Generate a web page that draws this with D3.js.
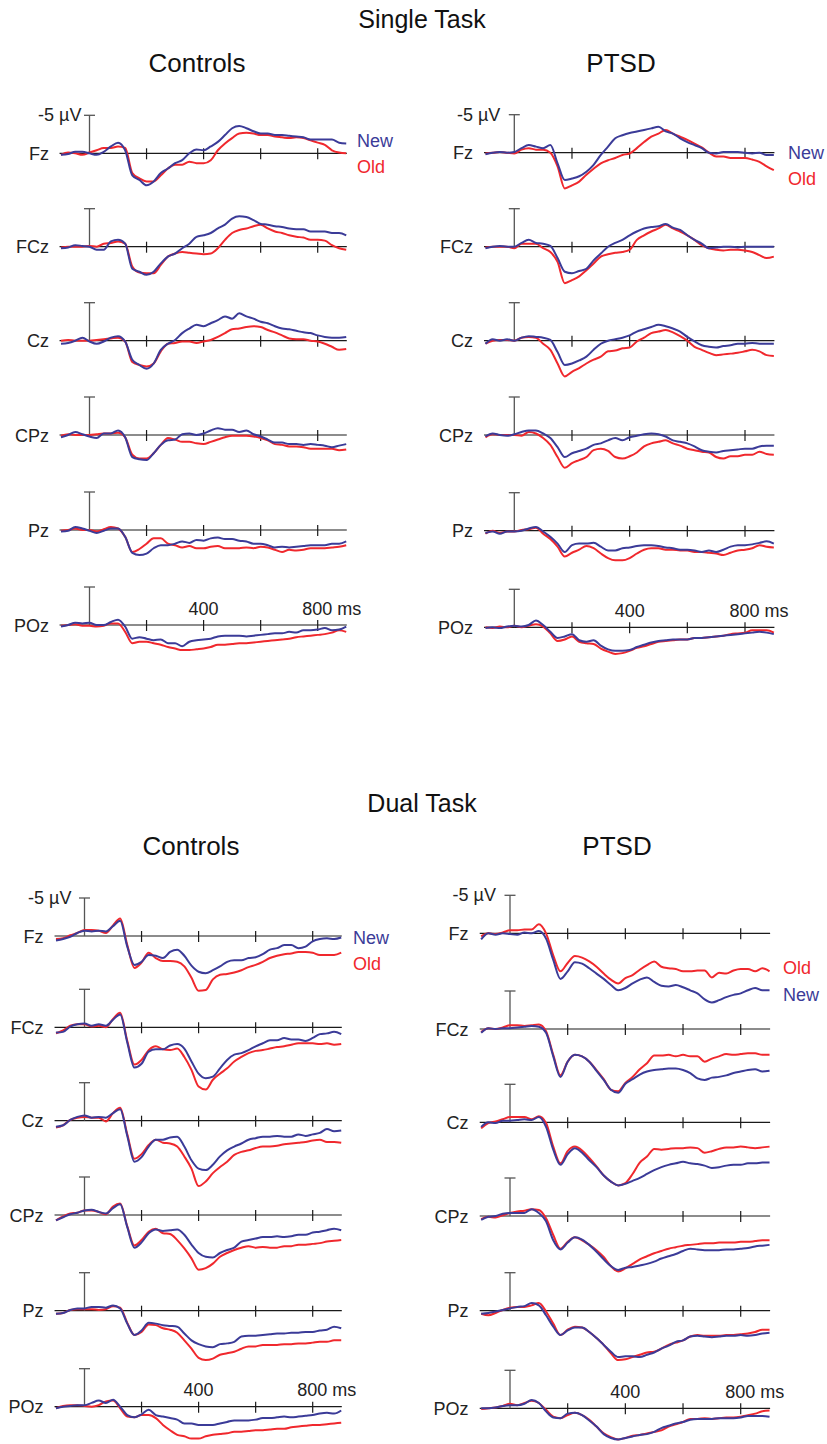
<!DOCTYPE html>
<html><head><meta charset="utf-8">
<script src="https://cdn.jsdelivr.net/npm/d3@7"></script>
<style>body{margin:0;background:#fff}svg{display:block}</style>
</head><body><svg id="c" width="827" height="1444"></svg>
<script>
// ---------- DATA ----------
const times = [-100,-75,-50,-25,0,25,50,75,100,125,150,175,200,225,250,275,300,325,350,375,400,425,450,475,500,525,550,575,600,625,650,675,700,725,750,775,800,825,850,875,900];
const electrodes = ["Fz","FCz","Cz","CPz","Pz","POz"];
const tasks = ["Single Task","Dual Task"];
const groups = ["Controls","PTSD"];
const conditions = ["New","Old"];
const tickTimes = [200,400,600,800];
const tickLabelTimes = [400,800];
const tickLabelTexts = ["400","800 ms"];
const calibrationUv = -5;
const calibrationText = "-5 µV";

// amplitudes in µV (negative plotted upward), one row per electrode
const singleControlsNew = [
 [0.2,0.1,-0.2,-0.2,0,0.2,-0.2,-0.9,-1.4,-0.4,2.9,3.5,4.2,3.7,2.6,2.0,1.3,0.9,0,-0.5,-0.4,-0.9,-1.5,-2.4,-3.3,-3.6,-3.3,-2.9,-2.6,-2.6,-2.4,-2.4,-2.3,-2.2,-2.1,-1.8,-1.8,-1.8,-1.8,-1.4,-1.3],
 [0.2,0.1,-0.2,-0.1,0,0.4,0.4,-0.7,-0.9,-0.4,2.9,3.3,3.7,3.3,2.2,1.3,0.9,0.2,-0.4,-1.3,-1.5,-1.8,-2.4,-2.9,-3.7,-4.0,-3.9,-3.5,-3.0,-2.9,-2.7,-2.6,-2.4,-2.3,-2.3,-2.0,-2.0,-2.0,-1.8,-1.8,-1.5],
 [0.4,0.3,0,-0.4,0.1,0.4,0.1,-0.4,-0.6,0.1,2.5,3.2,3.7,3.0,1.2,0.4,-0.1,-1.0,-1.6,-2.1,-1.9,-2.3,-2.7,-3.2,-2.9,-3.6,-3.2,-2.9,-2.5,-2.3,-1.9,-1.6,-1.5,-1.3,-1.1,-1.0,-0.7,-0.5,-0.4,-0.4,-0.5],
 [0.3,0,-0.4,-0.1,0.2,0.4,-0.2,-0.2,-0.6,0.3,2.9,3.2,3.3,2.4,1.3,0.7,0.6,-0.1,-0.2,0,-0.2,-0.6,-0.9,-0.7,-0.7,-0.4,-0.6,-0.1,0.2,0.6,1.0,1.0,1.2,1.2,1.3,1.2,1.3,1.4,1.6,1.4,1.2],
 [0.2,0.1,-0.4,-0.2,0.1,0.4,0.1,-0.2,-0.2,0.9,3.0,3.3,3.1,2.4,2.0,2.0,1.8,1.5,1.7,1.3,1.4,1.1,1.0,1.2,1.2,1.4,1.5,1.8,1.8,2.0,2.3,2.2,2.3,2.2,2.1,2.0,2.0,2.0,1.8,1.8,1.5],
 [0.2,0,-0.3,-0.2,-0.3,0,0,-0.4,-0.7,0.2,1.8,1.6,1.8,2.0,1.9,2.4,2.4,2.8,2.2,2.0,1.9,1.8,1.5,1.4,1.4,1.4,1.5,1.4,1.3,1.2,1.1,1.1,0.9,1.0,0.7,0.7,0.6,0.4,0.7,0.6,0.2]
];
const singleControlsOld = [
 [0.2,-0.1,0,0.2,-0.1,-0.4,-0.7,-0.7,-0.9,-0.7,2.6,3.3,3.7,3.7,2.9,2.0,1.5,1.5,1.1,1.3,1.3,0.9,-0.4,-1.3,-2.0,-2.6,-2.7,-2.6,-2.4,-2.4,-2.2,-2.1,-2.0,-2.1,-2.0,-1.7,-1.4,-1.1,-0.4,-0.1,0],
 [0.1,0,0,0,-0.1,0,-0.4,-0.5,-0.7,-0.4,2.6,3.4,3.5,3.5,2.4,1.3,0.9,0.7,0.8,0.9,1.0,0.9,0.2,-0.9,-1.8,-2.2,-2.4,-2.7,-2.9,-2.4,-2.0,-1.8,-1.5,-1.3,-1.2,-0.9,-0.9,-0.8,-0.2,0.2,0.4],
 [0,-0.1,0,0,0,-0.1,-0.2,-0.3,-0.4,0.1,2.8,3.2,3.4,3.0,1.4,0.4,0.3,0.1,0.1,0.3,0.1,-0.1,-0.5,-1.0,-1.5,-1.6,-1.8,-1.9,-1.8,-1.4,-1.1,-0.7,-0.3,-0.2,-0.2,0,0.1,0.4,0.8,1.2,1.1],
 [0.1,-0.1,0,0,0,-0.1,-0.2,-0.2,-0.3,0.3,2.6,3.1,3.1,2.4,1.3,0.4,0.6,0.9,0.9,1.1,1.2,0.9,0.6,0.3,0.1,0.1,0.1,0.2,0.4,0.7,1.2,1.3,1.5,1.5,1.6,1.8,1.8,1.8,1.8,2.0,1.9],
 [0.1,0,-0.2,0,0,0.2,-0.1,-0.4,-0.2,0.9,2.9,2.5,1.8,1.1,1.1,1.8,2.0,2.3,2.1,2.4,2.4,2.2,2.1,2.4,2.4,2.4,2.3,2.4,2.2,2.3,2.6,2.9,2.6,2.7,2.6,2.4,2.4,2.4,2.3,2.2,2.0],
 [0.1,0,-0.1,0.1,0.1,0.2,0.1,-0.2,-0.2,0.9,2.4,2.2,2.2,2.4,2.6,2.9,3.1,3.3,3.3,3.2,3.1,2.9,2.6,2.6,2.5,2.4,2.4,2.3,2.2,2.1,2.0,1.9,1.8,1.6,1.5,1.4,1.3,1.2,1.0,0.7,0.9]
];
const singlePtsdNew = [
 [0.2,0,-0.1,0,-0.1,-0.6,-1.0,-0.8,-0.6,-1.0,1.4,3.6,3.4,3.1,2.5,1.6,0.3,-0.8,-1.9,-2.3,-2.6,-2.8,-3.0,-3.2,-3.4,-2.8,-2.5,-1.9,-1.4,-1.0,-0.6,0,0.1,-0.1,-0.1,-0.1,0,0.1,0,0.3,0.3],
 [0.2,0,-0.1,0,0,-0.5,-0.9,-0.5,-0.4,-0.1,1.5,3.3,3.5,3.2,2.9,1.8,0.9,0,-0.5,-0.9,-1.5,-2.0,-2.4,-2.6,-2.7,-3.0,-2.5,-2.2,-1.5,-0.9,-0.4,0.2,0.1,0,0,0.1,0,0,0,0,0],
 [0.4,-0.2,0,-0.2,0,-0.4,-0.6,-0.5,-0.4,-0.1,1.5,3.2,3.0,2.6,2.1,1.2,0.4,0,-0.2,-0.4,-0.7,-1.2,-1.5,-1.8,-2.1,-1.9,-1.6,-1.2,-0.5,0.1,0.6,0.8,0.9,0.7,0.6,0.4,0.4,0.3,0.4,0.4,0.4],
 [0.2,-0.2,0,0.1,-0.1,-0.4,-0.6,-0.6,-0.2,0.4,1.6,2.9,2.4,2.1,1.8,1.3,1.1,0.7,0.4,0.7,0.3,0.1,-0.1,-0.2,-0.1,0.2,0.7,0.9,1.1,1.5,2.0,2.2,2.3,2.1,2.0,1.9,1.8,1.8,1.5,1.4,1.4],
 [0.3,0.1,0.4,0.1,0.1,0,-0.3,-0.5,0.1,0.8,1.7,2.8,1.9,1.7,1.7,1.6,2.1,2.6,2.6,2.3,2.2,2.0,1.9,1.9,2.0,2.2,2.3,2.5,2.5,2.6,2.8,2.6,2.8,2.5,2.1,1.9,1.9,1.8,1.6,1.4,1.7],
 [0.1,0,0.1,-0.1,-0.2,-0.1,-0.3,-0.9,-0.3,0.6,1.4,1.2,0.9,1.7,1.9,1.7,2.4,2.9,3.1,3.1,3.0,2.6,2.3,2.0,1.8,1.7,1.6,1.6,1.6,1.4,1.4,1.3,1.2,1.1,1.0,0.9,0.8,0.7,0.6,0.7,0.9]
];
const singlePtsdOld = [
 [0.1,0,-0.1,0,0.1,-0.4,-0.6,-0.4,-0.4,0,1.8,4.7,4.3,3.8,2.9,2.1,1.4,1.0,0.7,0.3,0.1,-0.6,-1.4,-2.1,-2.5,-3.0,-2.5,-2.1,-1.7,-1.2,-0.7,0,0.5,0.5,0.7,0.7,0.7,0.9,1.2,1.8,2.3],
 [0.1,0,0,0,0.2,-0.4,-0.4,-0.4,0.2,0.7,2.0,4.8,4.4,3.9,3.1,2.2,1.3,1.0,0.8,0.7,0.4,-0.9,-1.5,-2.0,-2.4,-2.9,-2.4,-2.0,-1.5,-0.9,-0.2,0.2,0.4,0.5,0.4,0.4,0.5,0.7,1.1,1.5,1.3],
 [0.4,0,-0.1,-0.1,0,-0.4,-0.5,-0.4,0.4,1.2,3.0,4.7,4.1,3.6,3.0,2.5,2.1,1.4,1.3,1.0,0.9,0.1,-0.4,-1.0,-1.2,-1.4,-1.1,-0.6,0,0.8,1.2,1.6,1.9,1.8,1.7,1.6,1.4,1.2,1.4,1.9,2.0],
 [0.3,-0.1,0,0,0,0.1,-0.4,-0.2,0.4,1.3,2.9,4.3,3.7,3.3,2.9,2.0,1.8,2.1,2.9,3.1,2.8,2.3,1.5,1.1,0.9,0.7,1.1,1.4,1.8,2.0,2.2,2.3,2.9,3.1,2.8,2.8,2.6,2.6,2.2,2.5,2.6],
 [0.4,0,0.3,0.1,0.1,-0.1,-0.2,-0.4,0.4,1.1,2.1,3.4,2.9,2.5,2.0,2.3,3.0,3.6,3.9,3.9,3.6,3.0,2.5,2.3,2.3,2.5,2.5,2.6,2.6,2.8,2.8,2.9,3.0,3.2,2.9,2.6,2.5,2.3,1.9,2.1,2.2],
 [0,0.1,-0.1,0,-0.2,0,-0.2,-0.4,-0.1,0.8,1.8,1.6,1.2,1.9,2.1,2.2,2.8,3.2,3.5,3.4,3.1,2.7,2.5,2.2,1.9,1.8,1.7,1.6,1.6,1.4,1.4,1.3,1.2,1.1,0.9,0.8,0.7,0.4,0.4,0.4,0.7]
];
const dualControlsNew = [
 [0.6,0.4,0.1,-0.4,-0.7,-0.6,-0.7,-0.6,-1.3,-2.0,1.4,3.8,3.4,2.5,2.6,2.9,2.1,1.8,2.6,3.9,4.7,4.9,4.5,4.0,3.4,3.2,3.2,2.9,2.8,2.4,1.8,1.6,1.2,1.2,1.6,1.4,0.7,0.4,0.3,0.4,0.2],
 [0.7,0.6,-0.1,-0.4,-0.5,-0.2,-0.4,-0.2,-1.0,-1.7,2.0,5.3,4.8,3.2,2.9,2.9,2.4,2.2,2.8,4.5,6.1,6.7,6.5,5.4,4.3,3.6,3.4,3.0,2.5,2.1,1.7,1.7,1.4,1.6,1.6,1.8,1.4,0.9,0.8,0.6,0.9],
 [0.8,0.6,-0.1,-0.5,-0.7,-0.4,-0.5,-0.4,-1.0,-1.5,2.0,5.4,4.8,3.4,2.5,2.5,2.2,2.1,3.4,5.2,6.3,6.5,5.8,4.7,3.9,3.4,3.0,2.5,2.3,2.1,2.1,2.0,2.1,2.1,1.8,2.0,1.8,1.6,1.1,1.4,1.3],
 [0.7,0.3,-0.1,-0.3,-0.6,-0.7,-0.4,-0.2,-0.9,-1.4,1.6,4.3,3.6,2.4,1.9,2.1,2.0,1.9,2.6,3.9,5.0,5.5,5.6,5.0,4.6,4.3,3.5,3.3,3.1,2.9,2.9,2.8,2.9,2.8,2.6,2.6,2.3,2.2,2.0,1.8,2.0],
 [0.4,0.3,-0.1,-0.3,-0.3,-0.5,-0.5,-0.4,-0.7,-0.3,1.7,3.2,2.6,1.6,1.7,1.9,2.0,2.1,3.0,3.9,4.4,4.7,4.8,4.4,4.3,4.1,3.4,3.3,3.3,3.2,3.1,3.0,3.0,2.9,2.9,2.8,2.8,2.6,2.5,2.1,2.3],
 [0.2,0,-0.1,-0.2,-0.2,-0.5,-0.8,-0.5,-0.9,0,1.1,1.4,1.0,0.4,1.1,1.3,1.5,1.7,2.2,2.2,2.4,2.4,2.4,2.2,2.0,1.8,1.8,1.8,1.7,1.5,1.5,1.4,1.3,1.4,1.3,1.2,1.1,0.9,0.8,0.9,0.5]
];
const dualControlsOld = [
 [0.4,0.3,-0.1,-0.4,-0.8,-0.8,-0.7,-0.4,-1.4,-2.3,1.2,4.2,3.5,2.2,2.9,3.3,3.3,3.4,4.0,5.5,7.2,7.1,5.7,5.1,5.0,4.8,4.5,4.1,3.8,3.4,2.9,2.6,2.4,2.3,2.1,2.1,2.2,2.5,2.5,2.5,2.2],
 [0.8,0.4,-0.2,-0.4,-0.4,-0.1,-0.2,0,-1.1,-1.9,1.8,4.9,4.3,3.0,2.5,2.9,3.0,2.8,3.9,5.6,7.8,8.2,6.9,6.1,5.4,4.5,3.9,3.4,3.1,3.0,2.8,2.6,2.5,2.3,2.1,2.1,2.1,2.2,2.1,2.3,2.2],
 [0.9,0.6,-0.1,-0.4,-0.5,-0.4,-0.4,0.1,-1.0,-1.7,1.8,5.0,4.4,3.2,2.5,2.9,3.0,3.4,4.7,6.3,8.6,8.0,6.9,6.1,5.4,4.5,4.1,3.9,3.6,3.4,3.4,3.3,3.1,3.0,2.9,2.8,2.6,2.5,2.8,2.8,2.9],
 [0.7,0.2,-0.2,-0.3,-0.6,-0.6,-0.4,-0.1,-1.1,-1.5,1.5,4.0,3.3,2.2,1.8,2.4,2.5,3.3,4.4,5.7,7.2,7.0,6.4,5.5,5.0,4.6,4.3,4.1,4.3,4.2,4.3,4.3,4.1,4.1,3.9,3.9,3.8,3.7,3.5,3.4,3.3],
 [0.4,0.3,-0.1,-0.2,-0.2,-0.2,-0.1,-0.2,-0.6,-0.4,1.6,3.2,2.8,1.8,1.9,2.3,2.5,2.9,3.9,5.0,6.2,6.5,6.3,5.8,5.6,5.4,5.0,4.7,4.7,4.5,4.5,4.5,4.4,4.4,4.3,4.3,4.2,4.1,4.1,3.9,3.9],
 [0.2,-0.1,-0.2,-0.2,-0.1,0,-0.2,-0.7,-0.8,0.2,1.3,1.4,1.1,1.1,1.5,2.4,3.1,3.7,3.9,4.2,4.2,3.9,3.7,3.6,3.5,3.3,3.3,3.2,3.1,3.1,3.0,2.9,2.9,2.7,2.6,2.5,2.4,2.4,2.3,2.2,2.1]
];
const dualPtsdNew = [
 [0.8,0,0.2,0,0.1,0.2,-0.1,0,-0.3,0.7,3.5,6.0,5.0,3.8,4.0,4.6,5.3,6.0,6.8,7.5,7.2,6.6,6.1,5.8,6.4,6.9,7.0,6.8,7.1,7.5,7.9,8.7,9.1,8.8,8.4,8.1,7.9,7.5,7.2,7.5,7.5],
 [0.5,-0.1,0,-0.1,-0.1,-0.2,-0.3,-0.4,-0.3,0.5,3.6,6.3,4.3,3.4,3.6,4.3,5.5,6.7,8.0,8.4,7.2,6.6,6.0,5.6,5.4,5.3,5.2,5.2,5.4,5.8,6.5,6.7,6.4,6.3,6.1,5.8,5.6,5.4,5.3,5.6,5.5],
 [0.6,0,0.1,-0.2,-0.2,-0.3,-0.4,-0.3,-0.7,0.6,3.6,5.6,4.2,3.4,4.0,5.0,5.9,7.0,7.8,8.3,8.1,7.7,7.3,6.8,6.3,5.9,5.6,5.4,5.2,5.4,5.5,5.7,6.0,5.9,5.7,5.6,5.6,5.4,5.4,5.3,5.3],
 [0.5,0.1,0,-0.3,-0.4,-0.4,-0.4,-0.9,-0.4,0.7,3.2,4.4,3.5,2.8,3.1,3.8,4.7,5.7,6.6,7.1,6.8,6.7,6.5,6.3,6.0,5.6,5.3,5.0,4.6,4.3,4.4,4.5,4.5,4.5,4.4,4.4,4.3,4.2,4.0,3.9,3.8],
 [0.4,0.3,0.1,-0.1,-0.3,-0.5,-0.6,-1.0,-0.7,0.6,2.1,3.2,2.6,2.2,2.2,2.8,3.6,4.5,5.4,6.1,6.0,6.0,6.1,5.8,5.5,5.0,4.6,4.1,3.9,3.4,3.3,3.4,3.5,3.4,3.3,3.3,3.2,3.3,3.2,3.0,2.9],
 [0,0,-0.1,-0.3,-0.4,-0.4,-0.6,-1.1,-0.7,0.4,1.2,1.3,0.7,0.6,0.9,1.6,2.4,3.4,3.9,4.1,3.9,3.7,3.5,3.4,3.1,2.6,2.3,2.0,1.8,1.5,1.4,1.4,1.4,1.3,1.3,1.3,1.2,1.0,1.0,1.0,1.1]
];
const dualPtsdOld = [
 [0.4,0,0.1,-0.1,-0.4,-0.4,-0.5,-0.5,-1.2,0,2.9,5.0,3.9,3.0,3.2,3.7,4.4,5.3,6.1,6.6,5.9,5.5,4.8,4.2,3.7,4.4,4.6,4.7,5.0,5.0,4.9,4.9,5.8,5.2,5.3,4.9,4.7,4.7,5.0,4.6,5.0],
 [0.4,-0.1,0,-0.2,-0.5,-0.5,-0.4,-0.5,-0.6,0.3,3.4,6.1,4.3,3.4,3.6,4.3,5.4,6.6,8.0,8.2,7.1,6.3,5.3,4.5,3.5,3.5,3.4,3.6,3.4,3.6,3.6,4.3,3.9,3.6,3.3,3.4,3.3,3.2,3.2,3.4,3.4],
 [0.8,0.1,-0.1,-0.4,-0.7,-0.7,-0.7,-0.4,-0.8,0.1,3.2,5.4,3.8,3.2,3.7,4.7,5.8,7.0,7.8,8.3,8.0,6.8,5.3,4.5,3.5,3.6,3.5,3.4,3.4,3.3,3.4,4.0,3.8,3.5,3.3,3.3,3.2,3.3,3.4,3.3,3.2],
 [0.4,0.1,0.2,-0.1,-0.4,-0.6,-0.7,-0.9,-0.8,0.3,2.5,4.3,3.4,2.8,3.2,3.8,4.5,5.4,6.6,7.3,6.9,6.3,5.7,5.3,4.9,4.6,4.3,4.1,3.9,3.8,3.7,3.6,3.6,3.5,3.5,3.5,3.4,3.4,3.3,3.2,3.2],
 [0.4,0.6,0.3,-0.1,-0.4,-0.5,-0.5,-0.7,-1.0,0.1,1.7,3.2,2.5,2.1,2.2,2.8,3.6,4.5,5.6,6.5,6.4,6.1,5.8,5.5,5.4,5.0,4.5,4.2,3.9,3.4,3.2,3.3,3.3,3.3,3.2,3.2,3.1,3.0,2.8,2.5,2.5],
 [0.1,0,-0.1,-0.3,-0.6,-0.4,-0.7,-1.0,-0.7,0.2,1.1,1.3,0.9,0.6,0.9,1.5,2.4,3.3,3.8,4.1,3.9,3.6,3.5,3.3,3.1,2.9,2.4,2.1,1.8,1.4,1.4,1.3,1.4,1.3,1.2,1.2,1.1,0.9,0.7,0.4,0.3]
];

// ---------- LAYOUT / STYLE ----------
const FONT = '"Liberation Sans", Arial, Helvetica, sans-serif';
const COLORS = {New: "#3b3b98", Old: "#f0282d"};
const AXIS = "#1a1a1a";
const svg = d3.select("#c");

// µV -> vertical pixel offset (negative up): 5 µV = 38 px
const yOff = d3.scaleLinear().domain([0, 5]).range([0, 38]);

const panels = [
  {task:0, group:0, data:{New:singleControlsNew, Old:singleControlsOld}, onset:89.5, x800:317.7,
   bases:[153.3,246.7,340.7,435,530,625], labelRight:49, calLabelDx:-8, titleX:197, titleY:72,
   legend:[{c:"New",x:357,y:146.5},{c:"Old",x:357,y:173}]},
  {task:0, group:1, data:{New:singlePtsdNew, Old:singlePtsdOld}, onset:514.3, x800:745,
   bases:[152.7,246.7,340.7,435,530.7,627.3], labelRight:473, calLabelDx:-14, titleX:621, titleY:72,
   legend:[{c:"New",x:788,y:158.5},{c:"Old",x:788,y:184.5}]},
  {task:1, group:0, data:{New:dualControlsNew, Old:dualControlsOld}, onset:84.5, x800:312.7,
   bases:[936,1027.3,1120.7,1215,1310.7,1406.7], labelRight:43.5, calLabelDx:-13, titleX:191, titleY:855,
   legend:[{c:"New",x:353,y:943.5},{c:"Old",x:353,y:970}]},
  {task:1, group:1, data:{New:dualPtsdNew, Old:dualPtsdOld}, onset:510, x800:740.7,
   bases:[933.3,1029,1122.3,1216,1310.7,1408.3], labelRight:468.5, calLabelDx:-14, titleX:617, titleY:855,
   legend:[{c:"Old",x:783,y:974},{c:"New",x:783,y:1000.5}]}
];
const taskTitles = [{x:422, y:28}, {x:422, y:812}];

tasks.forEach((t, i) => {
  svg.append("text").attr("x", taskTitles[i].x).attr("y", taskTitles[i].y)
    .attr("text-anchor","middle").attr("font-family",FONT).attr("font-size",25)
    .attr("fill","#111").text(t);
});

panels.forEach(p => {
  const x = d3.scaleLinear().domain([0, 800]).range([p.onset, p.x800]);
  const g = svg.append("g");
  g.append("text").attr("x", p.titleX).attr("y", p.titleY).attr("text-anchor","middle")
    .attr("font-family",FONT).attr("font-size",26).attr("fill","#111").text(groups[p.group]);

  electrodes.forEach((el, ei) => {
    const base = p.bases[ei];
    const eg = g.append("g").attr("transform", `translate(0,${base})`);
    eg.append("line").attr("x1", x(-105)).attr("x2", x(902)).attr("y1",0).attr("y2",0)
      .attr("stroke",AXIS).attr("stroke-width",1.2);
    eg.selectAll("line.tk").data(tickTimes).join("line").attr("class","tk")
      .attr("x1", d => x(d)).attr("x2", d => x(d)).attr("y1",-5).attr("y2",6)
      .attr("stroke",AXIS).attr("stroke-width",1.2);
    const cy = yOff(calibrationUv);
    eg.append("line").attr("x1", x(0)).attr("x2", x(0)).attr("y1", 0).attr("y2", cy)
      .attr("stroke","#555").attr("stroke-width",1.3);
    eg.append("line").attr("x1", x(0)-5.5).attr("x2", x(0)+5.5).attr("y1", cy).attr("y2", cy)
      .attr("stroke","#555").attr("stroke-width",1.3);
    if (ei === 0) {
      eg.append("text").attr("x", x(0) + p.calLabelDx).attr("y", cy + 6)
        .attr("text-anchor","end").attr("font-family",FONT).attr("font-size",18)
        .attr("fill","#222").text(calibrationText);
    }
    eg.append("text").attr("x", p.labelRight).attr("y", 6.5).attr("text-anchor","end")
      .attr("font-family",FONT).attr("font-size",18).attr("fill","#222").text(el);
    if (ei === electrodes.length - 1) {
      tickLabelTimes.forEach((t, ti) => {
        eg.append("text").attr("x", ti === 0 ? x(t) : x(t) - 15.5).attr("y", -10.5)
          .attr("text-anchor", ti === 0 ? "middle" : "start")
          .attr("font-family",FONT).attr("font-size",18).attr("fill","#222").text(tickLabelTexts[ti]);
      });
    }
    const line = d3.line().x((d,i) => x(times[i])).y(d => yOff(d)).curve(d3.curveMonotoneX);
    ["Old","New"].forEach(c => {
      eg.append("path").datum(p.data[c][ei]).attr("d", line).attr("fill","none")
        .attr("stroke", COLORS[c]).attr("stroke-width", 2).attr("stroke-linejoin","round");
    });
  });

  p.legend.forEach(l => {
    g.append("text").attr("x", l.x).attr("y", l.y).attr("font-family",FONT).attr("font-size",18)
      .attr("fill", COLORS[l.c]).text(l.c);
  });
});
</script>
</body></html>
